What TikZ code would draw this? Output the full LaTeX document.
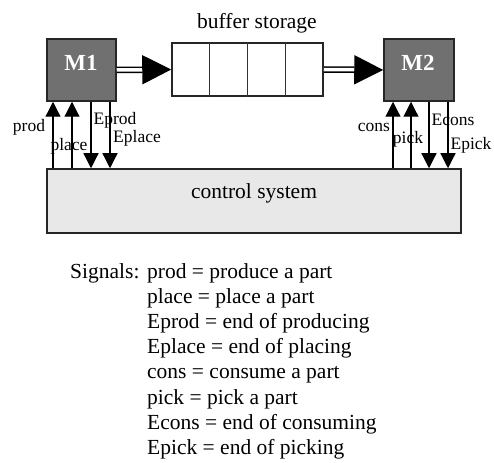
\documentclass[tikz,border=0pt]{standalone}
\usepackage{fontspec}
\setmainfont{Liberation Serif}
\usetikzlibrary{arrows.meta,calc}

\begin{document}
\begin{tikzpicture}[x=1pt, y=-1pt,
        mbox/.style={draw=black!85, fill=black!56, line width=1.5pt, inner sep=0pt,
            minimum width=69pt, minimum height=62pt},
        mtext/.style={text=white, font=\fontsize{23}{23}\selectfont\bfseries},
        flow/.style={line width=1.5pt, double, double distance=3.5pt,
            -{Triangle[length=29pt,width=29pt]}},
        sig/.style={line width=1.2pt, -{Triangle[length=15pt,width=15pt]}},
        siglabel/.style={inner sep=0pt, font=\fontsize{17.5}{18}\selectfont},
        bigtext/.style={inner sep=0pt, font=\fontsize{21.5}{25}\selectfont}]
    \useasboundingbox (0,0) rectangle (494,462);

    % machines and buffer
    \node[mbox] (m1) at (81.5,70) {};
    \node[mtext] (m1t) at (81,63) {M1};
    \node[mbox, minimum width=70pt] (m2) at (419,70) {};
    \node[mtext] (m2t) at (418,63) {M2};
    \node[draw=black!85, fill=white, line width=1.5pt, inner sep=0pt,
        minimum width=151pt, minimum height=53pt] (buffer) at (247.5,69.5) {};
    \foreach \k in {1,2,3}
        \draw[line width=1.2pt, black!80] ($(buffer.north west)!\k/4!(buffer.north east)$)
            -- ($(buffer.south west)!\k/4!(buffer.south east)$);
    \node[bigtext] (buftitle) at (257,23) {buffer storage};

    \draw[flow] (m1.east) -- (buffer.west);
    \draw[flow] (buffer.east) -- (m2.west);

    % control system
    \node[draw=black!85, fill=black!9, line width=1.5pt, inner sep=0pt,
        minimum width=414pt, minimum height=64pt] (ctrl) at (254,201) {};
    \node[bigtext] (ctrlt) at (254,193) {control system};

    % signals
    \foreach \x in {53,72,393,411}
        \draw[sig] (\x,0 |- ctrl.north) -- (\x,0 |- m1.south);
    \foreach \x in {91,110,429,448}
        \draw[sig] (\x,0 |- m1.south) -- (\x,0 |- ctrl.north);

    \node[siglabel] (lprod) at (29,127) {prod};
    \node[siglabel] (lplace) at (69,146) {place};
    \node[siglabel] (leprod) at (115,120) {Eprod};
    \node[siglabel] (leplace) at (137,138) {Eplace};
    \node[siglabel] (lcons) at (374,127) {cons};
    \node[siglabel] (lpick) at (408,139) {pick};
    \node[siglabel] (lecons) at (453,120) {Econs};
    \node[siglabel] (lepick) at (471,145) {Epick};

    % legend
    \node[bigtext, anchor=base west] (sigs) at (70,278) {Signals:};
    \foreach \t [count=\i from 0] in {prod = produce a part, place = place a part,
            Eprod = end of producing, Eplace = end of placing,
            cons = consume a part, pick = pick a part,
            Econs = end of consuming, Epick = end of picking}
        \node[bigtext, anchor=base west] (line\i) at (147,278+25.2*\i) {\t};
\end{tikzpicture}
\end{document}
